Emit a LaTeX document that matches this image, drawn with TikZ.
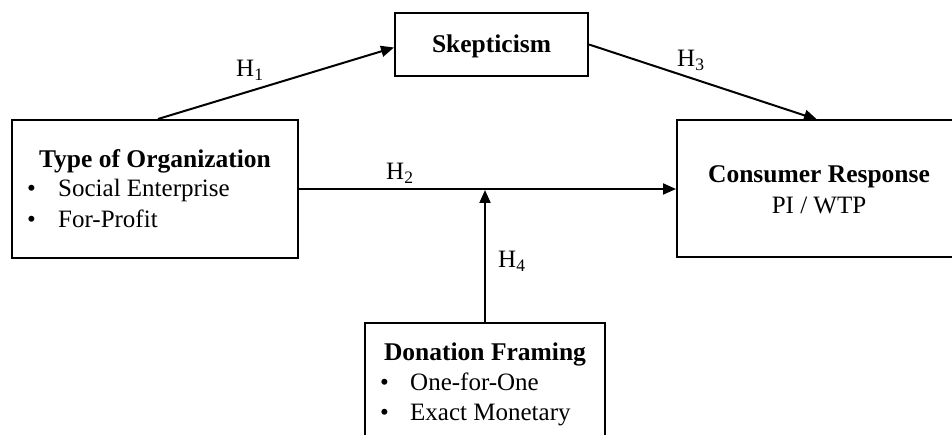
\documentclass[tikz,border=0pt]{standalone}
\usepackage{fontspec}
\setmainfont{Liberation Serif}
\usetikzlibrary{arrows.meta,calc}
\begin{document}
\begin{tikzpicture}[x=1pt,y=-1pt,
  box/.style={draw,line width=2pt,inner sep=0pt},
  conn/.style={line width=2pt,-{Triangle[length=13pt,width=11pt]}},
  lbl/.style={font=\fontsize{25}{29}\selectfont,inner sep=0pt,anchor=base west},
  txt/.style={font=\fontsize{25}{29}\selectfont,inner sep=0pt,anchor=base west},
  ttl/.style={font=\fontsize{25.5}{29}\selectfont\bfseries,inner sep=0pt,anchor=base}]
\useasboundingbox (0,0) rectangle (952,435);
\clip (0,0) rectangle (952,435);
% boxes
\node[box,minimum width=286pt,minimum height=138pt] (type) at (155,189) {};
\node[box,minimum width=193pt,minimum height=63pt] (skep) at (491.5,44.5) {};
\node[box,minimum width=290pt,minimum height=137pt] (cons) at (822,189) {};
\node[box,minimum width=240pt,minimum height=140pt] (don) at (485,393) {};
% texts
\node[ttl] (typet) at (155,168) {Type of Organization};
\node[txt] (typeb1) at (27,197) {•};
\node[txt] (typei1) at (58,197) {Social Enterprise};
\node[txt] (typeb2) at (27,228) {•};
\node[txt] (typei2) at (58,228) {For-Profit};
\node[ttl] (skept) at (491.5,53) {Skepticism};
\node[ttl] (const) at (819,183) {Consumer Response};
\node[font=\fontsize{25}{29}\selectfont,inner sep=0pt,anchor=base] (consi) at (819,214) {PI / WTP};
\node[ttl] (dont) at (485,360) {Donation Framing};
\node[txt] (donb1) at (380,390) {•};
\node[txt] (doni1) at (410,390) {One-for-One};
\node[txt] (donb2) at (380,420) {•};
\node[txt] (doni2) at (410,420) {Exact Monetary};
% connectors
\coordinate (h1s) at ($(type.north)+(3,0)$);
\coordinate (h1e) at ($(skep.west)+(0,3)$);
\coordinate (h3e) at ($(cons.north)+(-5,0)$);
\coordinate (mod) at ($(type.east)!(don.north)!(cons.west)$);
\draw[conn] (h1s) -- (h1e);
\draw[conn] (skep.east) -- (h3e);
\draw[conn] (type.east) -- (cons.west);
\draw[conn] (don.north) -- ($(mod)+(0,1)$);
% labels
\node[lbl] (l1) at (236,77) {H\textsubscript{1}};
\node[lbl] (l2) at (386,180) {H\textsubscript{2}};
\node[lbl] (l3) at (677,67) {H\textsubscript{3}};
\node[lbl] (l4) at (498,268) {H\textsubscript{4}};
\end{tikzpicture}
\end{document}
